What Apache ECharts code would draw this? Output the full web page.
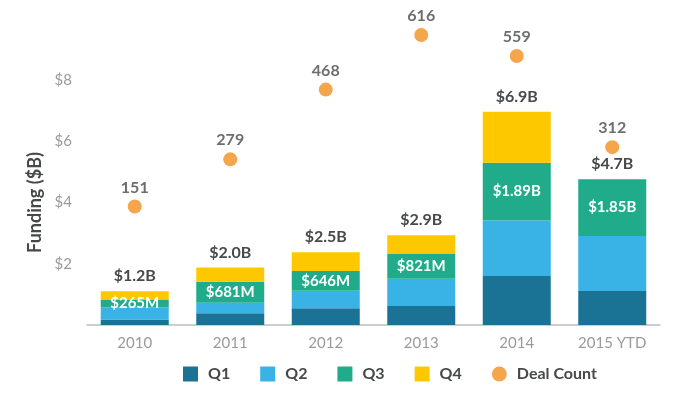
<!DOCTYPE html>
<html>
<head>
<meta charset="utf-8">
<script src="https://cdn.jsdelivr.net/npm/echarts@6/dist/echarts.min.js"></script>
<style>html,body{margin:0;padding:0;background:#fff;}#c{width:700px;height:393px;}</style>
</head>
<body>
<div id="c"></div>
<script>
const categories = ['2010', '2011', '2012', '2013', '2014', '2015 YTD'];
const q1 = [0.18, 0.38, 0.55, 0.62, 1.60, 1.11];
const q2 = [0.39, 0.35, 0.57, 0.89, 1.81, 1.80];
const q3 = [0.265, 0.681, 0.646, 0.821, 1.89, 1.85];
const q4 = [0.27, 0.47, 0.61, 0.60, 1.66, 0];
const dealCount = [151, 279, 468, 616, 559, 312];
const totalLabels = ['$1.2B', '$2.0B', '$2.5B', '$2.9B', '$6.9B', '$4.7B'];
const q3Labels = ['$265M', '$681M', '$646M', '$821M', '$1.89B', '$1.85B'];
const yTicks = [0, 2, 4, 6, 8];

const FONT = 'Lato, "Open Sans", sans-serif';
const DARK = '#47484a';
const chart = echarts.init(document.getElementById('c'));
chart.setOption({
  animation: false,
  textStyle: { fontFamily: FONT },
  grid: { left: 87, right: 40, top: 80, bottom: 68 },
  legend: {
    bottom: 6,
    left: 178,
    itemWidth: 15,
    itemHeight: 15,
    itemGap: 30,
    textStyle: { color: DARK, fontSize: 16, fontWeight: 'bold', fontFamily: FONT, padding: [0, 0, 0, 5] },
    data: [
      { name: 'Q1', icon: 'rect' },
      { name: 'Q2', icon: 'rect' },
      { name: 'Q3', icon: 'rect' },
      { name: 'Q4', icon: 'rect' },
      { name: 'Deal Count', icon: 'circle' }
    ]
  },
  xAxis: {
    type: 'category',
    data: categories,
    axisTick: { show: false },
    axisLine: { lineStyle: { color: '#bdbdbd', width: 1.5 } },
    axisLabel: { color: '#9a9a9a', fontSize: 15, margin: 11, fontFamily: FONT }
  },
  yAxis: [{
    type: 'value',
    min: yTicks[0],
    max: yTicks[yTicks.length - 1],
    interval: 2,
    name: 'Funding ($B)',
    nameLocation: 'middle',
    nameGap: 40,
    nameTextStyle: { color: DARK, fontSize: 18, fontWeight: 'bold', fontFamily: FONT },
    splitLine: { show: false },
    axisLine: { show: false },
    axisTick: { show: false },
    axisLabel: {
      color: '#9a9a9a', fontSize: 15, margin: 15, fontFamily: FONT,
      formatter: v => (v === 0 ? '' : '$' + v)
    }
  }, {
    type: 'value',
    min: -170,
    max: 494,
    show: false
  }],
  series: [
    { name: 'Q1', type: 'bar', stack: 'f', barWidth: 68, data: q1, itemStyle: { color: '#1a7395' } },
    { name: 'Q2', type: 'bar', stack: 'f', data: q2, itemStyle: { color: '#39b3e6' } },
    { name: 'Q3', type: 'bar', stack: 'f', data: q3, itemStyle: { color: '#20ac8a' },
      label: { show: true, position: 'inside', color: '#fff', fontSize: 15, fontWeight: 'bold', fontFamily: FONT,
        formatter: p => q3Labels[p.dataIndex] } },
    { name: 'Q4', type: 'bar', stack: 'f', data: q4, itemStyle: { color: '#fec800' },
      label: { show: true, position: 'top', distance: 7, color: DARK, fontSize: 16, fontWeight: 'bold', fontFamily: FONT,
        formatter: p => totalLabels[p.dataIndex] } },
    { name: 'Deal Count', type: 'scatter', yAxisIndex: 1, data: dealCount, symbolSize: 14, clip: false,
      itemStyle: { color: '#f28f1e' },
      label: { show: true, position: 'top', distance: 4, color: DARK, fontSize: 16, fontWeight: 'bold', fontFamily: FONT } }
  ]
});
</script>
</body>
</html>
